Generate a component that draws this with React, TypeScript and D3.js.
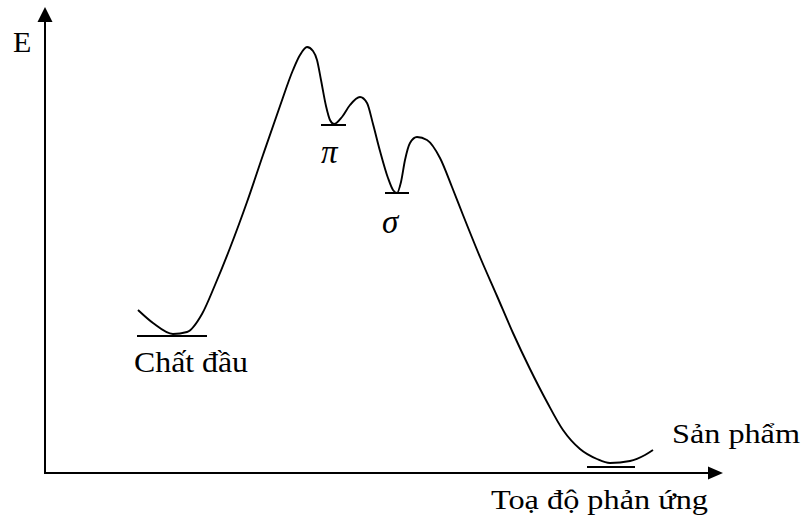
import React from "react";
import * as d3 from "d3";

// Reaction coordinate (arbitrary units) and energy (arbitrary units)
const reactionCoord = [
  93, 108, 128, 142, 157, 170, 185, 202, 218, 235, 248, 255, 262, 268, 272, 276, 281, 285,
  289, 297, 305, 315, 322, 328, 335, 343, 348, 352, 356, 360, 365, 372, 382, 395, 407, 418,
  435, 452, 468, 485, 502, 518, 535, 552, 565, 585, 600, 608,
];
const energy = [
  163, 150, 139, 141, 159, 188, 225, 271, 318, 367, 403, 418, 426, 422, 413, 393, 367, 353,
  349, 356, 368, 376, 370, 349, 322, 295, 283, 280, 291, 313, 330, 336, 333, 315, 286, 258,
  216, 177, 140, 104, 71, 43, 24, 14, 10, 12, 18, 23,
];

// Energy levels (horizontal bars) and their labels
const levelNames = ["Chất đầu", "π", "σ", "Sản phẩm"];
const levelStart = [92, 276, 340, 542];
const levelEnd = [162, 301, 364, 590];
const levelEnergy = [137, 348, 280, 6];

const axisLabelY = "E";
const axisLabelX = "Toạ độ phản ứng";

export default function App() {
  const W = 803;
  const H = 525;
  const x = d3.scaleLinear().domain([0, 680]).range([45, 725]);
  const y = d3.scaleLinear().domain([0, 466]).range([473, 7]);

  const pts: [number, number][] = reactionCoord.map((c, i) => [c, energy[i]]);
  const line = d3
    .line<[number, number]>()
    .x((d) => x(d[0]))
    .y((d) => y(d[1]))
    .curve(d3.curveMonotoneX);

  const font = "'Liberation Serif', 'Times New Roman', serif";
  const axisY0 = y(0);
  const axisX0 = x(0);

  return (
    <svg
      width={W}
      height={H}
      style={{ position: "absolute", left: 0, top: 0, background: "#fff" }}
    >
      <rect width={W} height={H} fill="#fff" />
      {/* axes */}
      <line x1={axisX0} y1={axisY0 + 1} x2={axisX0} y2={20} stroke="#000" strokeWidth={2} />
      <path d={`M${axisX0},7 L${axisX0 - 7.5},22 L${axisX0 + 7.5},22 Z`} fill="#000" />
      <line x1={axisX0 - 1} y1={axisY0} x2={710} y2={axisY0} stroke="#000" strokeWidth={2} />
      <path d={`M723,${axisY0} L708,${axisY0 - 6.5} L708,${axisY0 + 6.5} Z`} fill="#000" />

      {/* curve */}
      <path d={line(pts) || ""} fill="none" stroke="#000" strokeWidth={1.9} strokeLinejoin="round" />

      {/* levels */}
      {levelNames.map((n, i) => (
        <line
          key={n}
          x1={x(levelStart[i])}
          x2={x(levelEnd[i])}
          y1={y(levelEnergy[i])}
          y2={y(levelEnergy[i])}
          stroke="#000"
          strokeWidth={2}
        />
      ))}

      {/* labels */}
      <text x={13} y={52} fontFamily={font} fontSize={30} fill="#000">
        {axisLabelY}
      </text>
      <text x={134} y={372} fontFamily={font} fontSize={30} fill="#000" textLength={114} lengthAdjust="spacingAndGlyphs">
        {levelNames[0]}
      </text>
      <text x={321} y={163} fontFamily={font} fontSize={33} fontStyle="italic" fill="#000">
        {levelNames[1]}
      </text>
      <text x={382} y={233} fontFamily={font} fontSize={33} fontStyle="italic" fill="#000">
        {levelNames[2]}
      </text>
      <text x={672} y={443} fontFamily={font} fontSize={28} fill="#000" textLength={128} lengthAdjust="spacingAndGlyphs">
        {levelNames[3]}
      </text>
      <text x={491} y={509} fontFamily={font} fontSize={28} fill="#000" textLength={217} lengthAdjust="spacingAndGlyphs">
        {axisLabelX}
      </text>
    </svg>
  );
}
